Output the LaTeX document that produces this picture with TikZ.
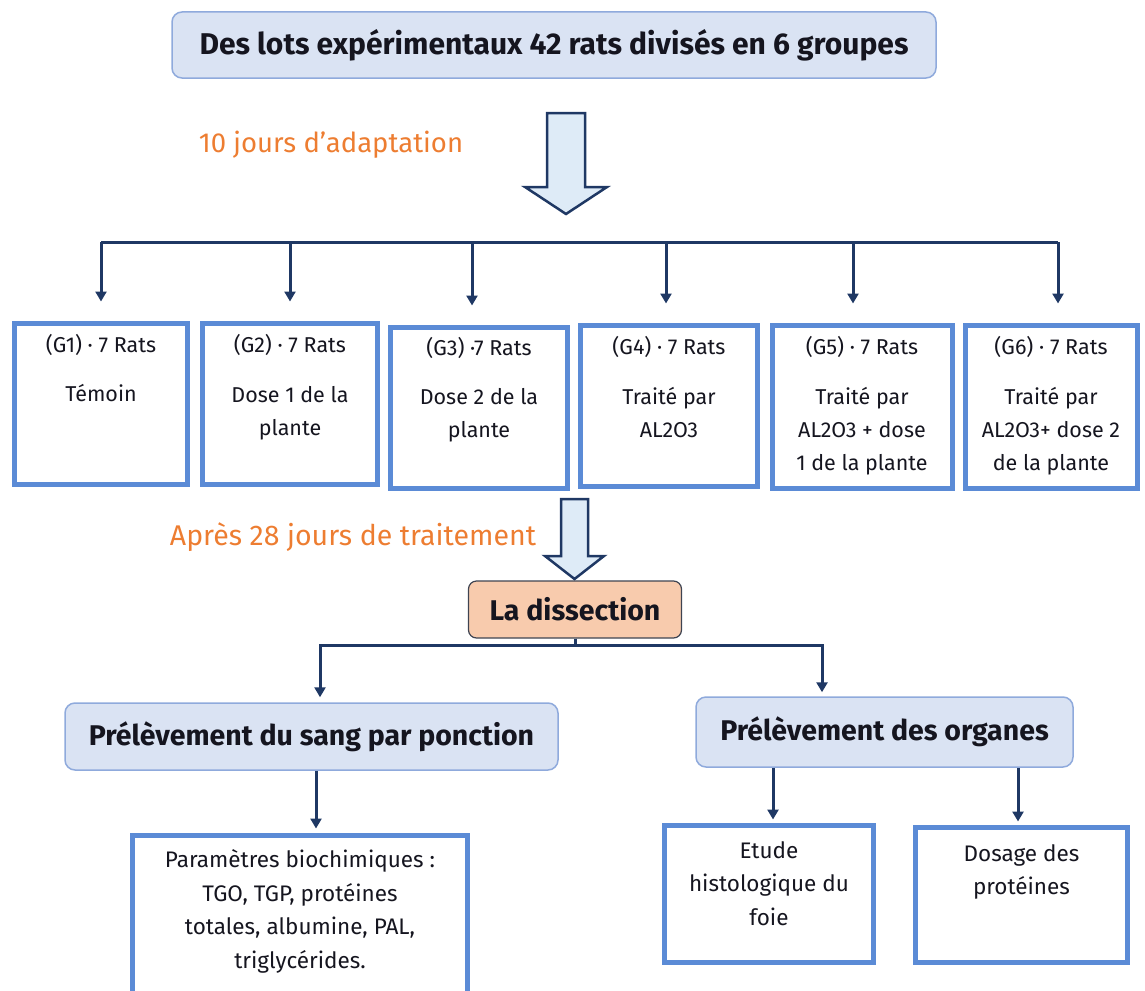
\documentclass[tikz,border=0pt]{standalone}
\usepackage{fontspec}
\setmainfont{Fira Sans}
\usetikzlibrary{arrows.meta}
\definecolor{navy}{HTML}{1F3864}
\definecolor{lightfill}{HTML}{DAE3F3}
\definecolor{thinblue}{HTML}{8FAADC}
\definecolor{thickblue}{HTML}{5B8BD6}
\definecolor{orangetxt}{HTML}{ED7D31}
\definecolor{peach}{HTML}{F8CBAD}
\definecolor{peachline}{HTML}{3F4452}
\definecolor{arrowfill}{HTML}{DEEBF7}
\definecolor{txt}{HTML}{15151F}
\newcommand{\grpfont}{\fontsize{21.5}{33}\selectfont}
\newcommand{\botfont}{\fontsize{22.5}{33.5}\selectfont}
\begin{document}
\begin{tikzpicture}[x=1pt,y=-1pt,
  headbox/.style={draw=thinblue, line width=1.5pt, fill=lightfill, rounded corners=10pt,
    font=\fontsize{28.5}{32}\selectfont\bfseries, text=txt, inner sep=0},
  grp/.style={draw=thickblue, line width=5pt, inner sep=0, anchor=north, text=txt, font=\grpfont},
  botbox/.style={draw=thickblue, line width=5pt, inner sep=0, anchor=north, text=txt, font=\botfont},
  conn/.style={draw=navy, line width=3pt, -{Triangle[width=11pt,length=10pt]}},
  hollow/.style={draw=navy, line width=2.5pt, fill=arrowfill, line join=miter},
  note/.style={text=orangetxt, font=\fontsize{27.5}{30}\selectfont, inner sep=0},
]
\useasboundingbox (0,0) rectangle (1145,990);

% top box
\node[headbox, minimum width=764, minimum height=66, font=\fontsize{30}{34}\selectfont\bfseries]
  (top) at (554,45) {Des lots expérimentaux 42 rats divisés en 6 groupes};

\node[note] (adapt) at (331,145) {10 jours d’adaptation};

% hollow arrow 1
\draw[hollow] (547,113) -- (585,113) -- (585,187) -- (607,187) -- (566,214)
  -- (525,187) -- (547,187) -- cycle;

% group boxes
\node[grp] (g1) at (101,320.5) {\parbox[t][161pt][t]{173pt}{\centering
  \rule{0pt}{29pt}(G1) · 7 Rats\\[16pt] Témoin}};
\node[grp] (g2) at (290,320.5) {\parbox[t][161pt][t]{175pt}{\centering
  \rule{0pt}{29pt}(G2) · 7 Rats\\[17pt] Dose 1 de la\\ plante}};
\node[grp] (g3) at (479,324.5) {\parbox[t][161pt][t]{177pt}{\centering
  \rule{0pt}{28pt}(G3) ·7 Rats\\[16pt] Dose 2 de la\\ plante}};
\node[grp] (g4) at (669,322.5) {\parbox[t][161pt][t]{177pt}{\centering
  \rule{0pt}{29pt}(G4) · 7 Rats\\[17pt] Traité par\\ AL2O3}};
\node[grp] (g5) at (862,322.5) {\parbox[t][163pt][t]{180pt}{\centering
  \rule{0pt}{29pt}(G5) · 7 Rats\\[17pt] Traité par\\ AL2O3 + dose\\ 1 de la plante}};
\node[grp] (g6) at (1051,322.5) {\parbox[t][163pt][t]{172pt}{\centering
  \rule{0pt}{29pt}(G6) · 7 Rats\\[17pt] Traité par\\ AL2O3+ dose 2\\ de la plante}};

% bus
\coordinate (busL) at (101,242);
\coordinate (busR) at (1058,242);
\draw[navy, line width=3pt] (busL) -- (busR);
\foreach \g/\x in {g1/101, g2/290, g3/472, g4/666, g5/853, g6/1058}{
  \draw[conn, shorten >=19pt] (\x,242) -- (\g.north -| \x,0);
}

% hollow arrow 2
\node[note, font=\fontsize{28.5}{30}\selectfont] (apres) at (353,537) {Après 28 jours de traitement};
\draw[hollow] (561,499) -- (588,499) -- (588,556) -- (604,556) -- (574.5,579)
  -- (545,556) -- (561,556) -- cycle;

% dissection
\node[draw=peachline, line width=1.2pt, fill=peach, rounded corners=8pt, minimum width=213,
  minimum height=57, inner sep=0, text=txt, font=\fontsize{28.5}{32}\selectfont\bfseries]
  (dis) at (575,609.5) {La dissection};

% second level
\node[headbox, minimum width=493, minimum height=67] (sang) at (311.5,736.5)
  {Prélèvement du sang par ponction};
\node[headbox, minimum width=377, minimum height=70] (org) at (884.5,732)
  {Prélèvement des organes};

\draw[conn, shorten >=5pt] (dis.south) -- (dis.south |- 0,645) -| (sang.north -| 320,0);
\draw[conn, shorten >=4pt] (dis.south) -- (dis.south |- 0,645) -| (org.north -| 822,0);

% bottom boxes
\node[botbox] (bio) at (300,832.5) {\parbox[t][200pt][t]{335pt}{\centering
  \rule{0pt}{32.5pt}Paramètres biochimiques :\\ TGO, TGP, protéines\\ totales, albumine, PAL,\\ triglycérides.}};
\node[botbox] (etude) at (769,822.5) {\parbox[t][137pt][t]{209pt}{\centering
  \rule{0pt}{33pt}Etude\\ histologique du\\ foie}};
\node[botbox] (dos) at (1021.5,824.5) {\parbox[t][135pt][t]{212pt}{\centering
  \rule{0pt}{34pt}Dosage des\\ protéines}};

\draw[conn, shorten >=4pt] (sang.south -| 316,0) -- (bio.north -| 316,0);
\draw[conn, shorten >=3pt] (org.south -| 773,0) -- (etude.north -| 773,0);
\draw[conn, shorten >=3pt] (org.south -| 1018,0) -- (dos.north -| 1018,0);
\end{tikzpicture}
\end{document}
